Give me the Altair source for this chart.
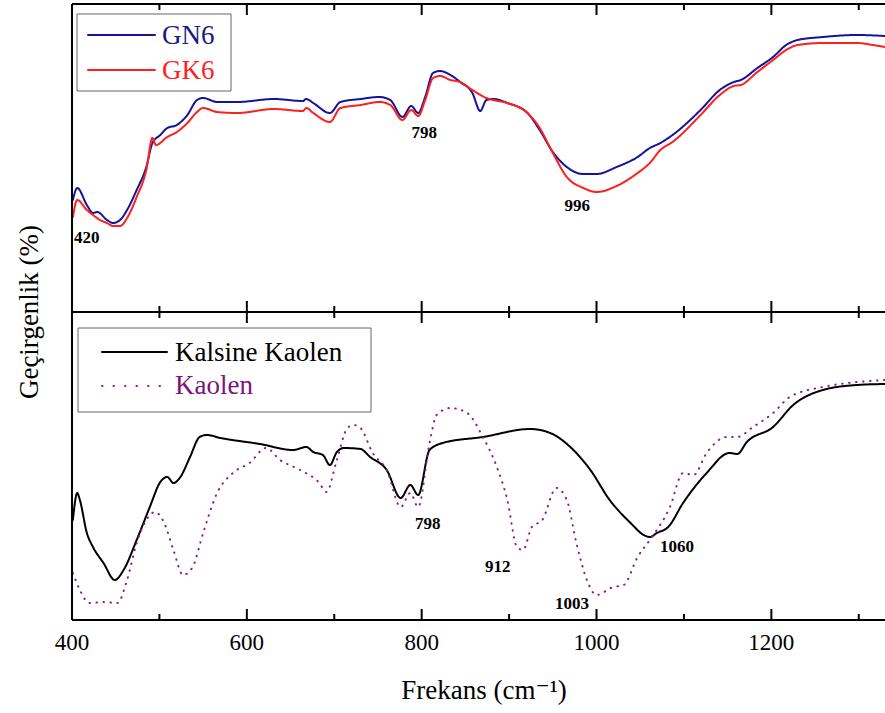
import altair as alt
import pandas as pd

# ---------------- data (transmittance in arbitrary units) -------------
gn6_w = [401,406,417,424,429,440,447,455,463,474,485,492,501,509,520,532,543,550,566,589,631,664,668,676,695,707,730,752,764,778,788,796,804,813,821,833,844,858,867,874,882,898,921,935,950,966,985,1000,1023,1047,1061,1073,1087,1119,1141,1157,1165,1184,1202,1217,1230,1259,1298,1330]
gn6_t = [112,124,107,99,100,92,89,92,102,122,145,169,177,184,187,197,212,214,210,210,213,211,213,209,199,210,213,215,212,195,206,199,215,239,241,237,230,219,201,212,213,209,199,182,160,145,138,138,145,155,164,169,177,202,222,230,232,244,255,267,272,275,277,276]

gk6_w = [401,406,417,424,432,440,447,455,463,474,485,492,496,509,520,532,543,550,566,589,631,664,668,676,695,707,730,752,764,778,788,796,804,813,821,833,844,858,874,882,898,921,935,950,966,985,1000,1023,1047,1061,1073,1087,1119,1141,1157,1165,1184,1202,1217,1230,1259,1298,1316,1330]
gk6_t = [95,112,102,97,92,89,86,86,94,115,142,174,167,175,180,189,200,204,200,199,203,201,204,199,190,204,207,210,207,192,202,196,212,234,236,232,230,222,214,212,209,199,184,159,135,124,120,126,139,149,162,170,197,217,226,227,240,252,262,267,269,269,267,265]

kk_w = [401,406,409,417,424,436,449,459,474,489,501,509,516,524,535,546,554,570,615,653,668,676,687,695,703,711,730,741,760,776,787,796,809,824,870,924,947,970,993,1015,1039,1054,1061,1069,1082,1099,1126,1152,1161,1172,1202,1225,1259,1298,1330]
kk_t = [100,127,120,87,73,57,40,50,80,113,138,143,137,143,163,183,185,182,176,170,173,168,165,155,168,172,171,163,150,122,135,125,170,177,183,191,187,173,150,120,97,85,83,87,93,117,147,167,166,178,193,215,230,235,236]

ka_w = [401,409,420,436,452,463,474,485,495,505,516,527,538,550,566,584,603,622,638,661,683,691,703,715,722,730,744,760,776,787,796,809,817,833,852,870,886,898,909,916,926,938,954,966,977,989,1000,1019,1031,1047,1061,1084,1099,1111,1126,1149,1161,1179,1202,1221,1259,1298,1330]
ka_t = [47,30,17,18,17,40,77,100,108,98,70,45,53,87,127,147,157,172,160,150,137,128,160,192,195,192,167,150,113,127,113,177,205,212,207,183,153,120,73,70,93,100,132,120,77,40,25,33,35,63,80,113,147,145,167,183,183,193,207,223,233,238,240]

series_names = ["GN6", "GK6", "Kalsine Kaolen", "Kaolen"]
series_colors = ["#14149a", "#ff1f1f", "#000000", "#8b1c8b"]

top_ann_text = ["420", "798", "996"]
top_ann_w = [417, 803, 978]
top_ann_t = [74, 179, 106]
bot_ann_text = ["798", "912", "1003", "1060"]
bot_ann_w = [807, 887, 972, 1092]
bot_ann_t = [96, 53, 16, 73]

x_ticks = [400, 500, 600, 700, 800, 900, 1000, 1100, 1200, 1300]
x_labels = [400, 600, 800, 1000, 1200]
x_title = "Frekans (cm⁻¹)"
y_title = "Geçirgenlik (%)"

PANEL = 308
W = 813
SERIF = "Liberation Serif, Times New Roman, DejaVu Serif, serif"

# ---------------- tables ----------------
df = pd.concat([
    pd.DataFrame({"w": gn6_w, "t": gn6_t, "series": "GN6", "panel": "top"}),
    pd.DataFrame({"w": gk6_w, "t": gk6_t, "series": "GK6", "panel": "top"}),
    pd.DataFrame({"w": kk_w, "t": kk_t, "series": "Kalsine Kaolen", "panel": "bottom"}),
    pd.DataFrame({"w": ka_w, "t": ka_t, "series": "Kaolen", "panel": "bottom"}),
], ignore_index=True)

ann = pd.concat([
    pd.DataFrame({"w": top_ann_w, "t": top_ann_t, "label": top_ann_text, "panel": "top"}),
    pd.DataFrame({"w": bot_ann_w, "t": bot_ann_t, "label": bot_ann_text, "panel": "bottom"}),
], ignore_index=True)

borders = [(0, 1), (PANEL, -1), (PANEL, 1), (2 * PANEL, -1)]
ticks = pd.DataFrame([{"w": t, "base": b, "dir": d} for t in x_ticks for (b, d) in borders])
lab_df = pd.DataFrame({"w": x_labels})

xs = alt.Scale(domain=[400, 1330], nice=False, zero=False)
ys = alt.Scale(domain=[0, 2 * PANEL], nice=False, zero=False)
yy_expr = f"datum.t + (datum.panel == 'top' ? {PANEL} : 0)"

lines = alt.Chart(df).transform_calculate(yy=yy_expr).mark_line(
    strokeWidth=2, clip=True, strokeCap="round", interpolate="monotone"
).encode(
    x=alt.X("w:Q", scale=xs, axis=None),
    y=alt.Y("yy:Q", scale=ys, axis=None),
    color=alt.Color("series:N", scale=alt.Scale(domain=series_names, range=series_colors), legend=None),
    strokeDash=alt.StrokeDash("series:N", scale=alt.Scale(domain=series_names,
                              range=[[1, 0], [1, 0], [1, 0], [0.5, 6.5]]), legend=None),
    detail="series:N",
    order=alt.Order("w:Q"),
)

labels = alt.Chart(ann).transform_calculate(yy=yy_expr).mark_text(
    font=SERIF, fontSize=17, fontWeight="bold", color="black", baseline="middle", align="center"
).encode(x=alt.X("w:Q", scale=xs, axis=None), y=alt.Y("yy:Q", scale=ys, axis=None), text="label:N")

tick_marks = alt.Chart(ticks).transform_calculate(
    y2v="datum.base + datum.dir * (datum.w % 200 == 0 ? 11 : 6)"
).mark_rule(color="black", strokeWidth=2).encode(
    x=alt.X("w:Q", scale=xs, axis=None),
    y=alt.Y("base:Q", scale=ys, axis=None),
    y2="y2v:Q",
)

frame_h = alt.Chart(pd.DataFrame({"b": [0, PANEL, 2 * PANEL]})).mark_rule(
    color="black", strokeWidth=2).encode(
    y=alt.Y("b:Q", scale=ys, axis=None), x=alt.value(0), x2=alt.value(W))

one = pd.DataFrame({"k": [0]})

frame_v = alt.Chart(one).mark_rule(color="black", strokeWidth=2).encode(
    x=alt.value(0), y=alt.value(0), y2=alt.value(2 * PANEL))

tick_labels = alt.Chart(lab_df).mark_text(
    font=SERIF, fontSize=23, color="black", baseline="middle", align="center"
).encode(x=alt.X("w:Q", scale=xs, axis=None), y=alt.value(639), text=alt.Text("w:Q", format="d"))

x_title_mark = alt.Chart(one).mark_text(
    font=SERIF, fontSize=27, color="black", baseline="middle", align="center", text=x_title
).encode(x=alt.value(412), y=alt.value(687))

y_title_mark = alt.Chart(one).mark_text(
    font=SERIF, fontSize=27, color="black", baseline="alphabetic", align="center", angle=270, text=y_title
).encode(x=alt.value(-34), y=alt.value(308))


def box(x1, x2, y1, y2):
    return alt.Chart(one).mark_rect(fill="white", stroke="#666666", strokeWidth=1).encode(
        x=alt.value(x1), x2=alt.value(x2), y=alt.value(y1), y2=alt.value(y2))

def sample(x1, x2, y, color, dash):
    return alt.Chart(one).mark_rule(color=color, strokeWidth=2, strokeDash=dash, strokeCap="round").encode(
        x=alt.value(x1), x2=alt.value(x2), y=alt.value(y))

def entry(x, y, txt, color):
    return alt.Chart(one).mark_text(font=SERIF, fontSize=27, color=color, align="left",
                                    baseline="middle", text=txt).encode(
        x=alt.value(x), y=alt.value(y))

legend_layers = [
    box(5, 159, 10, 87),
    sample(16, 83, 31, series_colors[0], [1, 0]),
    sample(16, 83, 66, series_colors[1], [1, 0]),
    entry(90, 32, "GN6", "#1a1a7a"),
    entry(90, 67, "GK6", series_colors[1]),
    box(6, 299, 324, 408),
    sample(30, 95, 348, series_colors[2], [1, 0]),
    sample(30, 90, 382, series_colors[3], [0.5, 11]),
    entry(103, 349, "Kalsine Kaolen", "black"),
    entry(103, 382, "Kaolen", "#7d137d"),
]

chart = alt.layer(
    lines, tick_marks, frame_h, frame_v, labels, tick_labels, x_title_mark, y_title_mark,
    *legend_layers
).properties(
    width=W, height=2 * PANEL,
    autosize=alt.AutoSizeParams(type="none"),
    padding={"left": 72, "top": 4, "right": 0, "bottom": 93},
    background="white",
).configure_view(stroke=None)

chart.save("out.html", embed_options={"renderer": "svg", "actions": False})
